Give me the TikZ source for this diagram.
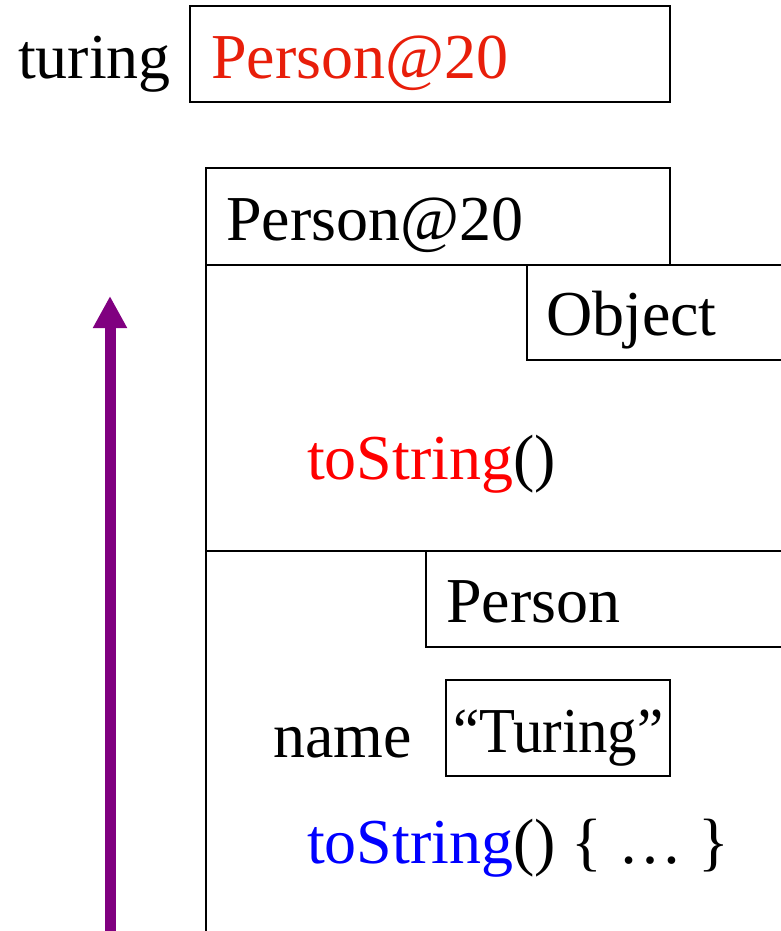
\documentclass[tikz,border=0pt]{standalone}
\usepackage{fontspec}
\setmainfont{Liberation Serif}
\newfontfamily\narrowserif[FakeStretch=0.92]{Liberation Serif}
\usetikzlibrary{arrows.meta}
\definecolor{refred}{RGB}{232,30,10}
\definecolor{methred}{RGB}{255,0,0}
\definecolor{methblue}{RGB}{0,0,255}
\definecolor{arrowpurple}{RGB}{128,0,128}
\tikzset{
  px/.style={x=1pt,y=-1pt},
  frame/.style={draw=black,line width=2.2pt},
  label/.style={anchor=base west,inner sep=0pt,outer sep=0pt,font=\fontsize{64}{76}\selectfont},
}
\begin{document}
\begin{tikzpicture}[px]
  \useasboundingbox (0,0) rectangle (781,931);

  % reference variable
  \node[label] (var) at (18,79) {turing};
  \draw[frame] (190,6) rectangle (670,102);
  \node[label,text=refred] (ref) at (211,79) {Person@20};

  % object header
  \draw[frame] (206,168) rectangle (670,265);
  \node[label] (hdr) at (226,240) {Person@20};

  % object body outline and layer separators
  \draw[frame] (206,265) -- (206,931);
  \draw[frame] (206,265) -- (781,265);
  \draw[frame] (206,551) -- (781,551);

  % Object layer
  \draw[frame] (781,360) -| (527,265);
  \node[label] (objname) at (546,335) {Object};
  \node[label] (objmeth) at (307,479) {\textcolor{methred}{toString}()};

  % Person layer
  \draw[frame] (781,647) -| (426,551);
  \node[label] (pername) at (446,622) {Person};
  \node[label] (field) at (273,757) {name};
  \draw[frame] (446,680) rectangle (670,776);
  \node[label] (val) at (453,752) {\narrowserif “Turing”};
  \node[label] (permeth) at (307,863) {\textcolor{methblue}{toString}() \{ … \}};

  % lookup direction arrow
  \coordinate (arrowfoot) at (110,931);
  \coordinate (arrowtip) at (110,296);
  \draw[arrowpurple,line width=11pt,-{Triangle[width=32pt,length=32pt]}] (arrowfoot) -- (arrowtip);
\end{tikzpicture}
\end{document}
